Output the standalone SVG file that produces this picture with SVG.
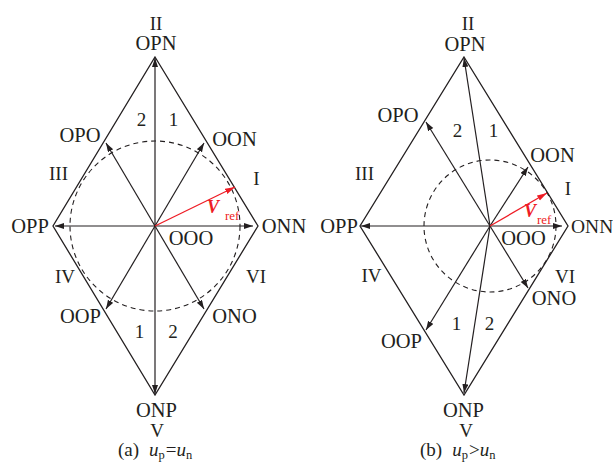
<svg xmlns="http://www.w3.org/2000/svg" width="613" height="463" viewBox="0 0 613 463">
<style>
.edge{fill:none;stroke:#231f20;stroke-width:1.3}
.vec{fill:none;stroke:#231f20;stroke-width:1.2}
.red{fill:none;stroke:#ee1c25;stroke-width:1.3}
.dash{fill:none;stroke:#231f20;stroke-width:1.1;stroke-dasharray:5 4}
text{font-family:"Liberation Serif","Times New Roman",serif;fill:#231f20}
.lb{font-size:20.5px;text-anchor:middle}
.ls{font-size:19.5px}
.num{font-size:19px;text-anchor:middle}
.rn{font-size:19px;text-anchor:middle}
.cap{font-size:19px}
.cs{font-size:12.5px}
.vr{font-size:18px;font-style:italic;font-weight:bold;fill:#ee1c25}
.sub{font-size:13px;fill:#ee1c25}
</style>
<defs>
<marker id="ah" markerUnits="userSpaceOnUse" markerWidth="10" markerHeight="8" refX="9" refY="3" orient="auto">
<path d="M0,0 L9,3 L0,6 z" fill="#231f20"/>
</marker>
<marker id="ahr" markerUnits="userSpaceOnUse" markerWidth="12" markerHeight="8" refX="10" refY="3" orient="auto">
<path d="M0,0 L10,3 L0,6 z" fill="#ee1c25"/>
</marker>
</defs>

<g id="diagram-a">
<g id="a-frame">
<path class="edge" d="M155,57 L258,226 L155,395 L53,226 Z"/>
<circle class="dash" cx="155" cy="226" r="85"/>
</g>
<g id="a-connectors">
<line class="vec" x1="155" y1="226" x2="155" y2="58" marker-end="url(#ah)"/>
<line class="vec" x1="155" y1="226" x2="155" y2="394" marker-end="url(#ah)"/>
<line class="vec" x1="155" y1="226" x2="55" y2="226" marker-end="url(#ah)"/>
<line class="vec" x1="155" y1="226" x2="253" y2="226" marker-end="url(#ah)"/>
<line class="vec" x1="155" y1="226" x2="106" y2="143" marker-end="url(#ah)"/>
<line class="vec" x1="155" y1="226" x2="204" y2="143" marker-end="url(#ah)"/>
<line class="vec" x1="155" y1="226" x2="106" y2="309" marker-end="url(#ah)"/>
<line class="vec" x1="155" y1="226" x2="204" y2="309" marker-end="url(#ah)"/>
<line class="red" x1="155" y1="226" x2="235" y2="187" marker-end="url(#ahr)"/>
</g>
<g id="a-labels">
<text class="rn" x="156" y="30">II</text>
<text class="lb" x="156" y="50">OPN</text>
<text class="lb" x="80" y="142">OPO</text>
<text class="lb" x="234.5" y="146">OON</text>
<text class="rn" x="58.5" y="180">III</text>
<text class="rn" x="256.5" y="185">I</text>
<text class="num" x="141.5" y="126">2</text>
<text class="num" x="173.5" y="126">1</text>
<text class="lb" x="30" y="233">OPP</text>
<text class="lb" x="284" y="233">ONN</text>
<text class="lb" x="191" y="245">OOO</text>
<text class="rn" x="65" y="283">IV</text>
<text class="rn" x="256" y="283">VI</text>
<text class="lb" x="80.5" y="323">OOP</text>
<text class="lb" x="234.5" y="323">ONO</text>
<text class="num" x="139.5" y="338">1</text>
<text class="num" x="173" y="338">2</text>
<text class="lb" x="156.5" y="417">ONP</text>
<text class="rn" x="157" y="437">V</text>
<text class="vr" x="207" y="213">V</text>
<text class="sub" x="225" y="220">ref</text>
<text class="cap" x="118" y="456">(a)<tspan dx="10" font-style="italic">u</tspan><tspan class="cs" dy="3">p</tspan><tspan dy="-3" dx="1">=</tspan><tspan font-style="italic">u</tspan><tspan class="cs" dy="3">n</tspan></text>
</g>
</g>

<g id="diagram-b">
<g id="b-frame">
<path class="edge" d="M464,57 L568,226 L464,395 L360,226 Z"/>
<circle class="dash" cx="490" cy="226" r="66"/>
</g>
<g id="b-connectors">
<line class="vec" x1="490" y1="226" x2="464" y2="58" marker-end="url(#ah)"/>
<line class="vec" x1="490" y1="226" x2="464" y2="393" marker-end="url(#ah)"/>
<line class="vec" x1="490" y1="226" x2="361" y2="226" marker-end="url(#ah)"/>
<line class="vec" x1="490" y1="226" x2="562" y2="226" marker-end="url(#ah)"/>
<line class="vec" x1="490" y1="226" x2="426" y2="122" marker-end="url(#ah)"/>
<line class="vec" x1="490" y1="226" x2="528" y2="167" marker-end="url(#ah)"/>
<line class="vec" x1="490" y1="226" x2="426" y2="330" marker-end="url(#ah)"/>
<line class="vec" x1="490" y1="226" x2="528" y2="288" marker-end="url(#ah)"/>
<line class="red" x1="490" y1="226" x2="547" y2="193" marker-end="url(#ahr)"/>
</g>
<g id="b-labels">
<text class="rn" x="468" y="30">II</text>
<text class="lb" x="465" y="51">OPN</text>
<text class="lb" x="398" y="122">OPO</text>
<text class="num" x="457.5" y="137">2</text>
<text class="num" x="493.5" y="137">1</text>
<text class="lb" x="552.5" y="162">OON</text>
<text class="rn" x="364.5" y="180">III</text>
<text class="rn" x="568" y="195">I</text>
<text class="lb" x="339" y="233">OPP</text>
<text class="ls" x="571" y="233">ONN</text>
<text class="lb" x="523.5" y="245">OOO</text>
<text class="rn" x="371.5" y="282">IV</text>
<text class="rn" x="565" y="283">VI</text>
<text class="lb" x="554" y="305">ONO</text>
<text class="num" x="456.5" y="330">1</text>
<text class="num" x="489.5" y="330">2</text>
<text class="lb" x="401.5" y="348">OOP</text>
<text class="lb" x="463.5" y="417">ONP</text>
<text class="rn" x="466" y="437">V</text>
<text class="vr" x="524" y="217">V</text>
<text class="sub" x="537" y="224">ref</text>
<text class="cap" x="420" y="456">(b)<tspan dx="10" font-style="italic">u</tspan><tspan class="cs" dy="3">p</tspan><tspan dy="-3" dx="1">&gt;</tspan><tspan font-style="italic">u</tspan><tspan class="cs" dy="3">n</tspan></text>
</g>
</g>
</svg>
